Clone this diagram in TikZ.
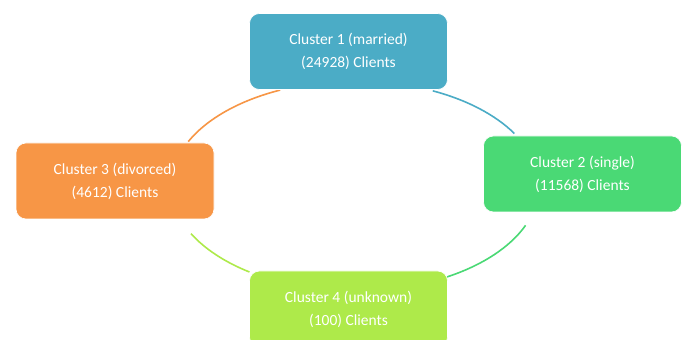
\documentclass[tikz,border=0pt]{standalone}
\usepackage{fontspec}
\setmainfont{Carlito}
\definecolor{cblue}{HTML}{4BACC6}
\definecolor{cgreen}{HTML}{4AD975}
\definecolor{clime}{HTML}{AEEA4A}
\definecolor{corange}{HTML}{F79646}
\begin{document}
\begin{tikzpicture}[x=1pt,y=1pt,
  cluster/.style={rounded corners=10pt, minimum width=198pt, minimum height=76pt,
    inner sep=0pt, align=center, text=white, draw=white, line width=0.6pt,
    font=\fontsize{15.5}{23}\selectfont},
  ring/.style={line width=1.6pt}]
\clip (0,0) rectangle (686,340);
\fill[white] (0,0) rectangle (686,340);
% centre of the cycle ellipse
\coordinate (o) at (355,154);
% connecting arcs
\draw[ring, cblue]   (o) ++(65:184pt and 105pt)  arc[start angle=65,  end angle=30,  x radius=184pt, y radius=105pt];
\draw[ring, cgreen]  (o) ++(-22:184pt and 105pt) arc[start angle=-22, end angle=-60, x radius=184pt, y radius=105pt];
\draw[ring, clime]   (o) ++(235:184pt and 105pt) arc[start angle=235, end angle=207, x radius=184pt, y radius=105pt];
\draw[ring, corange] (o) ++(155:184pt and 105pt) arc[start angle=155, end angle=114, x radius=184pt, y radius=105pt];
% cluster boxes
\node[cluster, fill=cblue]   (c1) at (348.5,288.5) {Cluster 1 (married)\\(24928) Clients};
\node[cluster, fill=cgreen]  (c2) at (582.5,166)   {Cluster 2 (single)\\(11568) Clients};
\node[cluster, fill=corange] (c3) at (115,159)     {Cluster 3 (divorced)\\(4612) Clients};
\node[cluster, fill=clime]   (c4) at (348.5,31)    {Cluster 4 (unknown)\\(100) Clients};
\end{tikzpicture}
\end{document}
